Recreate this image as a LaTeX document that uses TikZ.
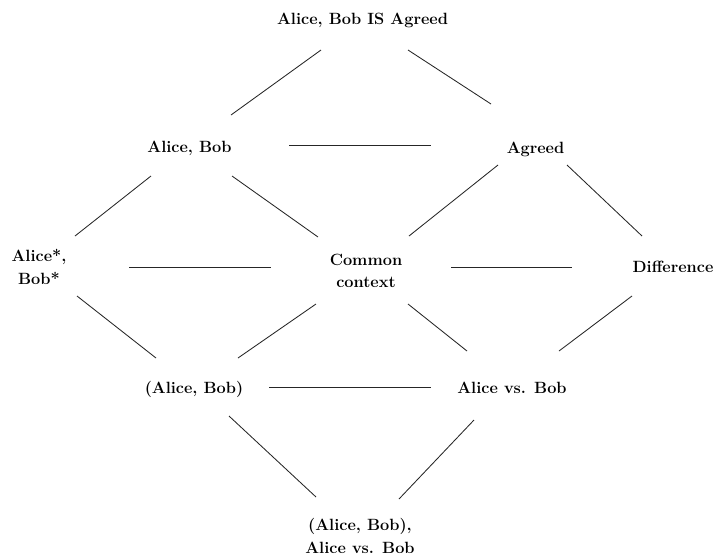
\documentclass[tikz,border=0pt]{standalone}
\usepackage{tikz}

% Short connector between two labels: each end is offset from the node's centre
\newcommand\conn[4]{\draw[edge] ([shift={(#2)}]#1.center) -- ([shift={(#4)}]#3.center);}

\begin{document}
\begin{tikzpicture}[x=1pt, y=-1pt,
  lbl/.style={inner sep=0pt, align=center,
    font=\fontsize{16.3}{22.5}\selectfont\bfseries},
  edge/.style={draw=black!85, line width=0.85pt}]

\useasboundingbox (0,0) rectangle (715,558);

% labels
\node[lbl] (T)   at (362.5,20)  {Alice, Bob IS Agreed};
\node[lbl] (AB)  at (189.5,148) {Alice, Bob};
\node[lbl] (AG)  at (535.5,149) {Agreed};
\node[lbl] (AS)  at (39,267)    {Alice*,\\Bob*};
\node[lbl] (CC)  at (366,271)   {Common\\context};
\node[lbl] (DF)  at (673,267)   {Difference};
\node[lbl] (PAB) at (194,389)   {(Alice, Bob)};
\node[lbl] (AVB) at (512,388)   {Alice vs. Bob};
\node[lbl] (BOT) at (360,536)   {(Alice, Bob),\\Alice vs. Bob};

% connectors
\conn{T}{-41.5,30}{AB}{41.5,-33}
\conn{T}{45.5,30}{AG}{-44.5,-45}
\conn{AB}{99.5,-3}{AG}{-104.5,-4}
\conn{AB}{-38.5,28}{AS}{36,-31}
\conn{AB}{42.5,28}{CC}{-48,-34}
\conn{AG}{-37.5,16}{CC}{43,-35}
\conn{AG}{31.5,16}{DF}{-31,-31}
\conn{AS}{90,0}{CC}{-95,-4}
\conn{AS}{38,29}{PAB}{-38,-31}
\conn{CC}{85,-4}{DF}{-101,0}
\conn{CC}{-50,33}{PAB}{44,-31}
\conn{CC}{42,33}{AVB}{-45,-37}
\conn{DF}{-41,29}{AVB}{47,-37}
\conn{PAB}{75,-2}{AVB}{-81,-1}
\conn{PAB}{35,27}{BOT}{-44,-39}
\conn{AVB}{-38,32}{BOT}{39,-37}

\end{tikzpicture}
\end{document}
